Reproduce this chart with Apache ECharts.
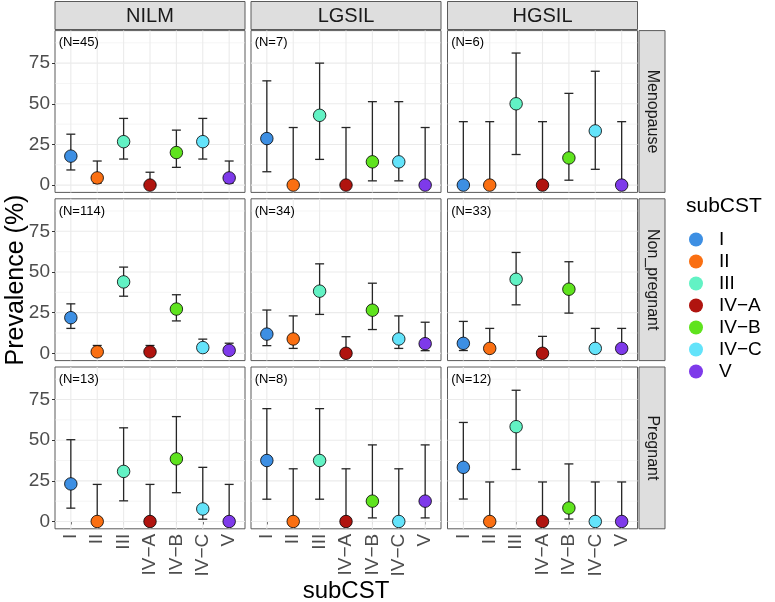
<!DOCTYPE html>
<html><head><meta charset="utf-8">
<script src="https://cdn.jsdelivr.net/npm/echarts@6/dist/echarts.min.js"></script>
<style>html,body{margin:0;padding:0;background:#fff}#c{width:775px;height:602px}</style>
</head><body><div id="c"></div>
<script>
// ---------- data ----------
const categories = ['I', 'II', 'III', 'IV\u2212A', 'IV\u2212B', 'IV\u2212C', 'V'];
const colors = ['#3D8FE3', '#FA6F12', '#62F2C4', '#B0140F', '#5FE31E', '#63E3FA', '#7E3AEA'];
const columns = ['NILM', 'LGSIL', 'HGSIL'];
const rows = ['Menopause', 'Non_pregnant', 'Pregnant'];
const nMenopause = [45, 7, 6];
const nNonPregnant = [114, 34, 33];
const nPregnant = [13, 8, 12];
const yTicks = [0, 25, 50, 75];

// prevalence (%), lower and upper CI bounds, per facet
const menoNILM = [17.8, 4.4, 26.7, 0, 20.0, 26.7, 4.4];
const menoNILMlo = [9.3, 1.2, 16.0, 0, 10.9, 16.0, 1.2];
const menoNILMhi = [31.3, 14.8, 41.0, 7.9, 33.8, 41.0, 14.8];
const menoLGSIL = [28.6, 0, 42.9, 0, 14.3, 14.3, 0];
const menoLGSILlo = [8.2, 0, 15.8, 0, 2.6, 2.6, 0];
const menoLGSILhi = [64.1, 35.4, 75.0, 35.4, 51.3, 51.3, 35.4];
const menoHGSIL = [0, 0, 50.0, 0, 16.7, 33.3, 0];
const menoHGSILlo = [0, 0, 18.8, 0, 3.0, 9.7, 0];
const menoHGSILhi = [39.0, 39.0, 81.2, 39.0, 56.4, 70.0, 39.0];

const nonpNILM = [21.9, 0.9, 43.9, 0.9, 27.2, 3.5, 1.8];
const nonpNILMlo = [15.3, 0.2, 35.1, 0.2, 19.9, 1.4, 0.5];
const nonpNILMhi = [30.4, 4.8, 53.0, 4.8, 36.0, 8.7, 6.2];
const nonpLGSIL = [11.8, 8.8, 38.2, 0, 26.5, 8.8, 5.9];
const nonpLGSILlo = [4.7, 3.0, 23.9, 0, 14.6, 3.0, 1.6];
const nonpLGSILhi = [26.6, 23.0, 55.0, 10.2, 43.1, 23.0, 19.1];
const nonpHGSIL = [6.1, 3.0, 45.5, 0, 39.4, 3.0, 3.0];
const nonpHGSILlo = [1.7, 0.5, 29.8, 0, 24.7, 0.5, 0.5];
const nonpHGSILhi = [19.6, 15.3, 62.0, 10.4, 56.3, 15.3, 15.3];

const pregNILM = [23.1, 0, 30.8, 0, 38.5, 7.7, 0];
const pregNILMlo = [8.2, 0, 12.7, 0, 17.7, 1.4, 0];
const pregNILMhi = [50.3, 22.8, 57.6, 22.8, 64.5, 33.3, 22.8];
const pregLGSIL = [37.5, 0, 37.5, 0, 12.5, 0, 12.5];
const pregLGSILlo = [13.7, 0, 13.7, 0, 2.2, 0, 2.2];
const pregLGSILhi = [69.4, 32.4, 69.4, 32.4, 47.1, 32.4, 47.1];
const pregHGSIL = [33.3, 0, 58.3, 0, 8.3, 0, 0];
const pregHGSILlo = [13.8, 0, 32.0, 0, 1.5, 0, 0];
const pregHGSILhi = [60.9, 24.3, 80.7, 24.3, 35.4, 24.3, 24.3];

// ---------- assemble ----------
const facets = [
  [[menoNILM, menoNILMlo, menoNILMhi], [menoLGSIL, menoLGSILlo, menoLGSILhi], [menoHGSIL, menoHGSILlo, menoHGSILhi]],
  [[nonpNILM, nonpNILMlo, nonpNILMhi], [nonpLGSIL, nonpLGSILlo, nonpLGSILhi], [nonpHGSIL, nonpHGSILlo, nonpHGSILhi]],
  [[pregNILM, pregNILMlo, pregNILMhi], [pregLGSIL, pregLGSILlo, pregLGSILhi], [pregHGSIL, pregHGSILlo, pregHGSILhi]]
];
const nCounts = [nMenopause, nNonPregnant, nPregnant];

const FONT = '"Liberation Sans", Arial, sans-serif';
const colLeft = [55, 251, 447.5];
const panelW = 190;
const rowTop = [30.6, 198.8, 367];
const panelH = 161.8;
const YMIN = -4.5, YMAX = 95, XMIN = 0.4, XMAX = 7.6;

const grids = [], xAxes = [], yAxes = [], series = [];
const gridMajorY = [0, 25, 50, 75];
const gridMinorY = [12.5, 37.5, 62.5, 87.5];

for (let r = 0; r < 3; r++) {
  for (let c = 0; c < 3; c++) {
    const k = r * 3 + c;
    grids.push({left: colLeft[c], top: rowTop[r], width: panelW, height: panelH,
      show: true, borderColor: '#5a5a5a', borderWidth: 1, backgroundColor: '#fff'});
    const bottomRow = r === 2, leftCol = c === 0;
    xAxes.push({type: 'value', gridIndex: k, min: XMIN, max: XMAX,
      axisLine: {show: false}, splitLine: {show: false},
      axisTick: {show: bottomRow, length: 3, lineStyle: {color: '#333'}, customValues: [1,2,3,4,5,6,7]},
      axisLabel: {show: bottomRow, customValues: [1,2,3,4,5,6,7], rotate: 90, margin: 5,
        color: '#4D4D4D', fontSize: 19, fontFamily: FONT,
        formatter: v => categories[Math.round(v) - 1] || ''}
    });
    yAxes.push({type: 'value', gridIndex: k, min: YMIN, max: YMAX,
      axisLine: {show: false}, splitLine: {show: false},
      axisTick: {show: leftCol, length: 3, lineStyle: {color: '#333'}, customValues: yTicks},
      axisLabel: {show: leftCol, customValues: yTicks, margin: 5, color: '#4D4D4D', fontSize: 19, fontFamily: FONT}
    });

    // gridlines
    const gl = [];
    gridMajorY.forEach(v => gl.push([1, v, 1, 0]));
    gridMinorY.forEach(v => gl.push([1, v, 0, 0]));
    for (let i = 1; i <= 7; i++) gl.push([i, 0, 1, 1]);
    series.push({type: 'custom', xAxisIndex: k, yAxisIndex: k, z: 1, silent: true,
      data: gl, clip: false,
      renderItem: (params, api) => {
        const cs = params.coordSys;
        const major = api.value(2) === 1;
        const style = {stroke: '#EBEBEB', lineWidth: major ? 1.1 : 0.55};
        if (api.value(3) === 1) {
          const x = api.coord([api.value(0), 0])[0];
          return {type: 'line', shape: {x1: x, y1: cs.y, x2: x, y2: cs.y + cs.height}, style};
        }
        const y = api.coord([1, api.value(1)])[1];
        return {type: 'line', shape: {x1: cs.x, y1: y, x2: cs.x + cs.width, y2: y}, style};
      }
    });

    const [prev, lo, hi] = facets[r][c];
    // error bars
    series.push({type: 'custom', xAxisIndex: k, yAxisIndex: k, z: 2, silent: true,
      data: prev.map((p, i) => [i + 1, lo[i], hi[i]]),
      renderItem: (params, api) => {
        const x = api.value(0);
        const pLo = api.coord([x, api.value(1)]);
        const pHi = api.coord([x, api.value(2)]);
        const a = api.coord([x - 0.17, 0])[0], b = api.coord([x + 0.17, 0])[0];
        const st = {stroke: '#262626', lineWidth: 1.3};
        return {type: 'group', children: [
          {type: 'line', shape: {x1: pLo[0], y1: pLo[1], x2: pHi[0], y2: pHi[1]}, style: st},
          {type: 'line', shape: {x1: a, y1: pLo[1], x2: b, y2: pLo[1]}, style: st},
          {type: 'line', shape: {x1: a, y1: pHi[1], x2: b, y2: pHi[1]}, style: st}
        ]};
      }
    });
    // points
    categories.forEach((cat, i) => {
      series.push({type: 'scatter', name: cat, xAxisIndex: k, yAxisIndex: k, z: 3,
        symbol: 'circle', symbolSize: 12.5, data: [[i + 1, prev[i]]],
        itemStyle: {color: colors[i], borderColor: '#000', borderWidth: 0.8, opacity: 1},
        emphasis: {disabled: true}
      });
    });
    // N label
    series.push({type: 'custom', xAxisIndex: k, yAxisIndex: k, z: 4, silent: true,
      data: [[0.5, 87.5, nCounts[r][c]]],
      renderItem: (params, api) => {
        const p = api.coord([api.value(0), api.value(1)]);
        return {type: 'text', x: p[0] + 1, y: p[1],
          style: {text: '(N=' + api.value(2) + ')', fill: '#000', font: '13px ' + FONT,
            align: 'left', verticalAlign: 'middle'}};
      }
    });
  }
}

// strips and titles
const graphics = [];
columns.forEach((name, c) => {
  graphics.push({type: 'rect', shape: {x: colLeft[c], y: 1.5, width: panelW, height: 28},
    style: {fill: '#DEDEDE', stroke: '#5a5a5a', lineWidth: 1}});
  graphics.push({type: 'text', x: colLeft[c] + panelW / 2, y: 16,
    style: {text: name, fill: '#1A1A1A', font: '20px ' + FONT, align: 'center', verticalAlign: 'middle'}});
});
rows.forEach((name, r) => {
  graphics.push({type: 'rect', shape: {x: 639, y: rowTop[r], width: 26, height: panelH},
    style: {fill: '#DEDEDE', stroke: '#5a5a5a', lineWidth: 1}});
  graphics.push({type: 'text', x: 652, y: rowTop[r] + panelH / 2, rotation: -Math.PI / 2,
    style: {text: name, fill: '#1A1A1A', font: '16px ' + FONT, align: 'center', verticalAlign: 'middle'}});
});
graphics.push({type: 'text', x: 16, y: 280, rotation: Math.PI / 2,
  style: {text: 'Prevalence (%)', fill: '#000', font: '25px ' + FONT, align: 'center', verticalAlign: 'middle'}});
graphics.push({type: 'text', x: 346, y: 591,
  style: {text: 'subCST', fill: '#000', font: '24px ' + FONT, align: 'center', verticalAlign: 'middle'}});
graphics.push({type: 'text', x: 686, y: 206,
  style: {text: 'subCST', fill: '#000', font: '21px ' + FONT, align: 'left', verticalAlign: 'middle'}});

const chart = echarts.init(document.getElementById('c'), null, {renderer: 'canvas'});
chart.setOption({
  animation: false,
  backgroundColor: '#fff',
  grid: grids, xAxis: xAxes, yAxis: yAxes, series: series,
  legend: {data: categories, orient: 'vertical', left: 684, top: 225,
    icon: 'circle', itemWidth: 36, itemHeight: 14, itemGap: 3, selectedMode: false,
    itemStyle: {borderWidth: 0},
    textStyle: {fontSize: 19, lineHeight: 18, color: '#000', fontFamily: FONT}},
  graphic: graphics
});
</script></body></html>
